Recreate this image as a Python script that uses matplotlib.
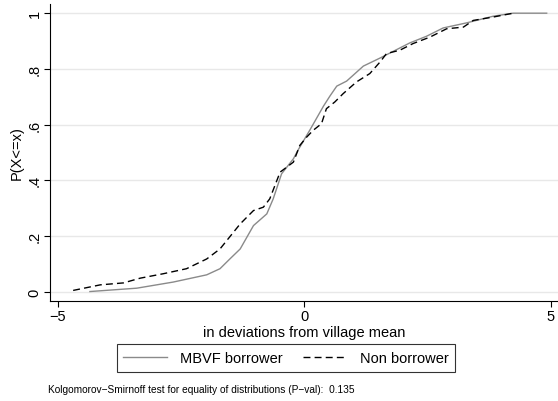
import numpy as np
import matplotlib
matplotlib.use('Agg')
import matplotlib.pyplot as plt

plt.rcParams['font.family'] = ['Liberation Sans', 'DejaVu Sans']

# CDF points (x in deviations from village mean)
mbvf_x = [-4.35, -3.40, -2.66, -1.98, -1.71, -1.51, -1.30, -1.03, -0.76, -0.63,
          -0.46, -0.22, -0.12, 0.12, 0.39, 0.52, 0.66, 0.86, 1.20, 1.54,
          1.74, 2.14, 2.48, 2.82, 3.29, 3.83, 4.24, 4.92]
mbvf_y = [0.0, 0.012, 0.034, 0.060, 0.082, 0.117, 0.153, 0.237, 0.279, 0.333,
          0.423, 0.477, 0.51, 0.582, 0.666, 0.702, 0.738, 0.756, 0.810, 0.839,
          0.857, 0.893, 0.917, 0.947, 0.965, 0.989, 1.0, 1.0]

non_x = [-4.69, -4.14, -3.67, -3.33, -2.86, -2.39, -1.98, -1.71, -1.30, -1.03,
         -0.83, -0.70, -0.49, -0.22, -0.09, 0.05, 0.18, 0.35, 0.45, 0.62,
         0.79, 1.06, 1.33, 1.54, 1.67, 1.94, 2.21, 2.55, 2.89, 3.23,
         3.43, 3.83, 4.24]
non_y = [0.004, 0.024, 0.031, 0.048, 0.064, 0.082, 0.117, 0.153, 0.243, 0.291,
         0.303, 0.333, 0.429, 0.465, 0.525, 0.555, 0.579, 0.603, 0.657, 0.681,
         0.711, 0.753, 0.783, 0.825, 0.855, 0.867, 0.891, 0.914, 0.944, 0.950,
         0.974, 0.986, 1.0]

y_ticks = [0, 0.2, 0.4, 0.6, 0.8, 1.0]
y_labels = ['0', '.2', '.4', '.6', '.8', '1']
x_ticks = [-5, 0, 5]

fs = 10.5

fig = plt.figure(figsize=(5.58, 4.02), dpi=100)
ax = fig.add_axes([50 / 558, 1 - 302 / 402, 508 / 558, 297 / 402])

ax.plot(mbvf_x, mbvf_y, color='#8a8a8a', linewidth=1.0, label='MBVF borrower')
ax.plot(non_x, non_y, color='black', linewidth=1.0, linestyle=(0, (5, 3)),
        label='Non borrower')

ax.set_xlim(-5.16, 5.15)
ax.set_ylim(-0.034, 1.033)
ax.set_yticks(y_ticks)
ax.set_yticklabels(y_labels, rotation=90, va='center')
ax.set_xticks(x_ticks)
ax.tick_params(labelsize=fs, length=4, width=0.8, direction='out', pad=2)
ax.grid(axis='y', color='#e8e8e8', linewidth=1.0)
ax.set_axisbelow(True)
for s in ['top', 'right']:
    ax.spines[s].set_visible(False)
ax.spines['left'].set_linewidth(0.8)
ax.spines['bottom'].set_linewidth(0.8)

ax.set_ylabel('P(X<=x)', fontsize=fs, labelpad=3)
ax.set_xlabel('in deviations from village mean', fontsize=fs, labelpad=1)

leg = fig.legend(loc='center', bbox_to_anchor=(286 / 558, 1 - 359 / 402), ncol=2,
                 fontsize=fs, frameon=True, fancybox=False, handlelength=3.0,
                 handletextpad=0.9, columnspacing=1.4, borderpad=0.45)
leg.get_frame().set_edgecolor('black')
leg.get_frame().set_linewidth(0.8)

fig.text(48 / 558, 1 - 390 / 402,
         'Kolgomorov\u2212Smirnoff test for equality of distributions (P\u2212val):  0.135',
         fontsize=7.3, va='center', ha='left')

fig.savefig('out.png', dpi=100)
